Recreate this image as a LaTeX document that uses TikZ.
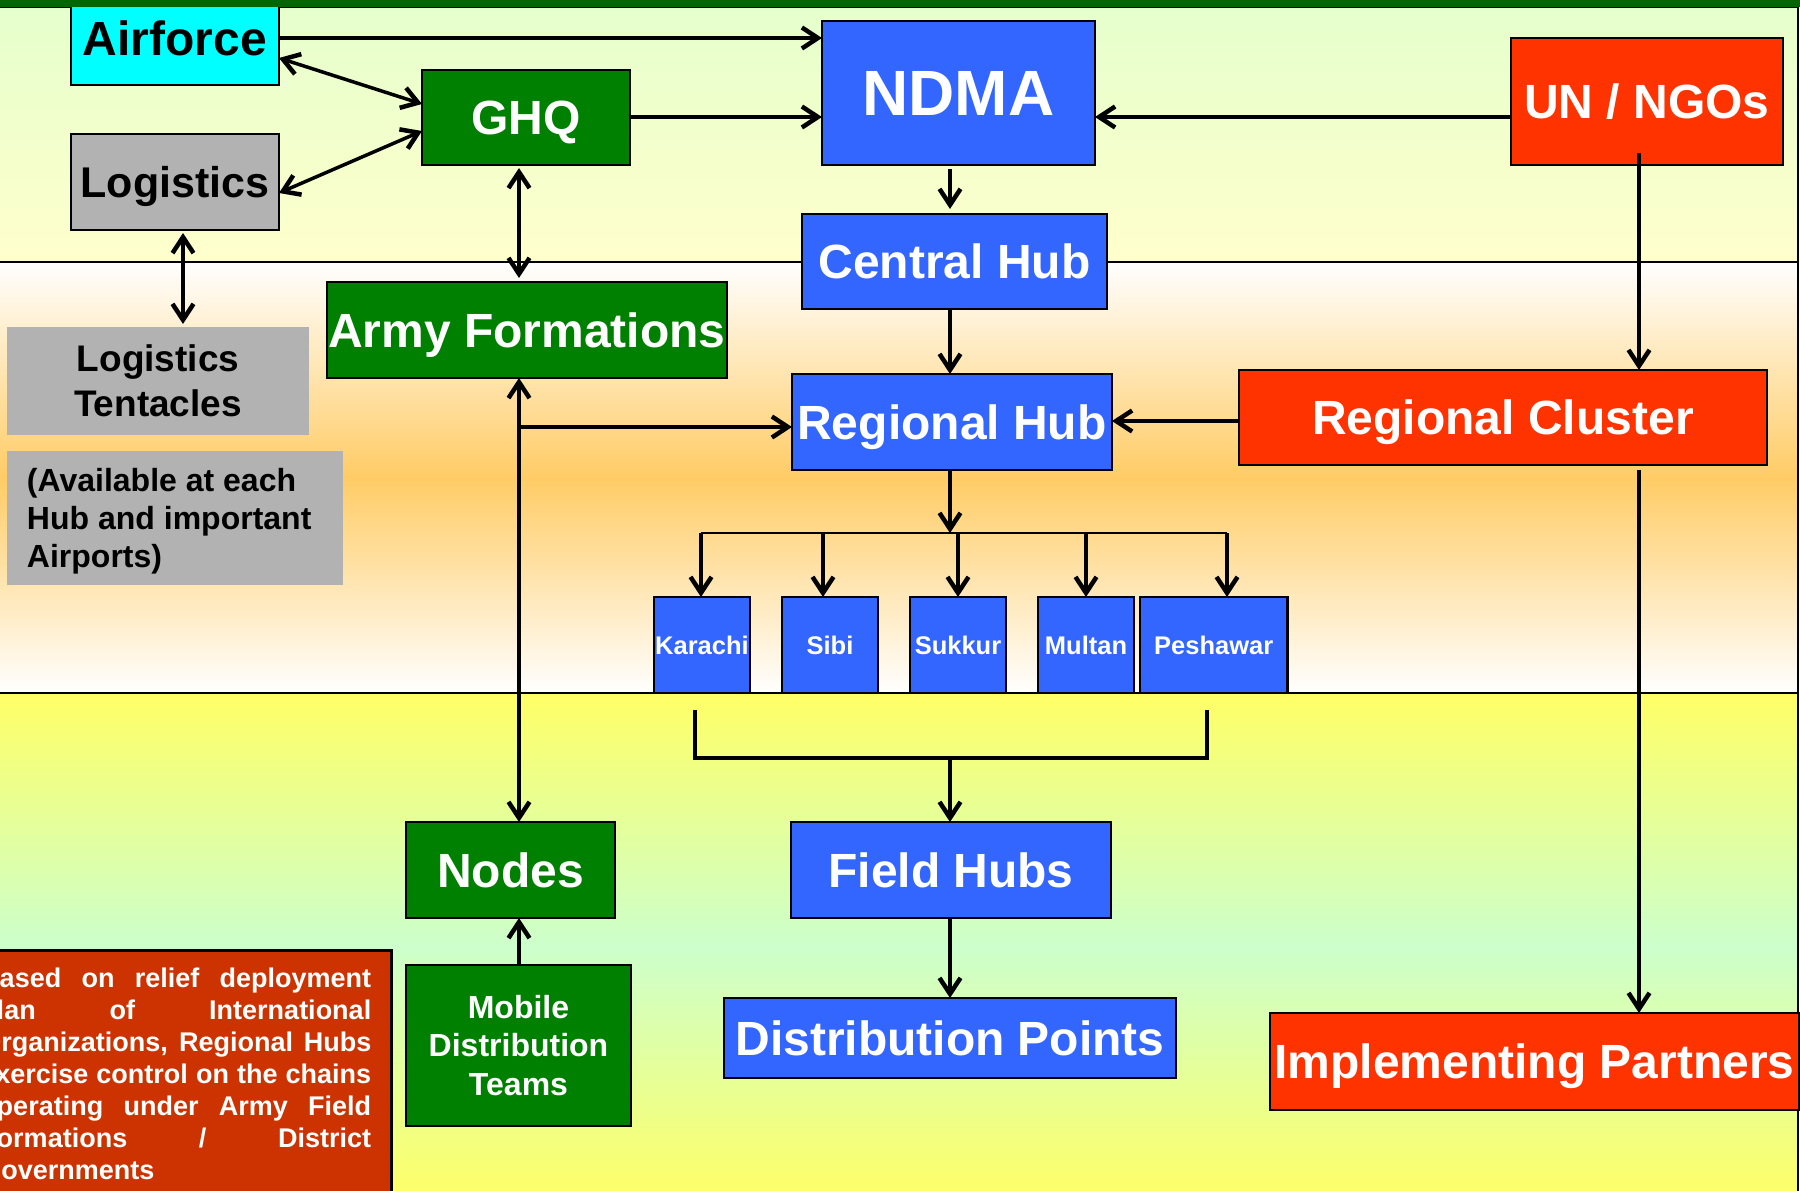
\documentclass[tikz,border=0pt]{standalone}
\usepackage{fontspec}
\setmainfont{Liberation Sans}
\usetikzlibrary{arrows.meta}
\tolerance=10000 \hbadness=10000
\definecolor{ncyan}{HTML}{00FFFF}
\definecolor{ngray}{HTML}{B2B2B2}
\definecolor{ngreen}{HTML}{008000}
\definecolor{nblue}{HTML}{3366FF}
\definecolor{nred}{HTML}{FF3300}
\definecolor{nnote}{HTML}{CC3300}
\definecolor{topbar}{HTML}{006600}
\definecolor{bonetop}{HTML}{E5FFCC}
\definecolor{bonebot}{HTML}{FFFFCC}
\definecolor{btwomid}{HTML}{FFCC66}
\definecolor{bthreeyel}{HTML}{FFFF66}
\definecolor{bthreegrn}{HTML}{CCFFCC}
\tikzset{
  bx/.style={draw=black, line width=2.5pt, inner sep=0pt, outer sep=0pt},
  fbig/.style={font=\fontsize{48}{56}\selectfont\bfseries, text height=34.4pt, text depth=0pt},
  fhuge/.style={font=\fontsize{64}{74}\selectfont\bfseries, text height=45.8pt, text depth=0pt},
  flog/.style={font=\fontsize{43}{50}\selectfont\bfseries, text height=30.8pt, text depth=0pt},
  fsmall/.style={font=\fontsize{25.5}{30}\selectfont\bfseries, text height=18.3pt, text depth=0pt},
  cyanbox/.style={bx, fill=ncyan, text=black},
  graybox/.style={bx, fill=ngray, text=black},
  plainbox/.style={fill=ngray, text=black, inner sep=0pt, outer sep=0pt},
  greenbox/.style={bx, fill=ngreen, text=white},
  bluebox/.style={bx, fill=nblue, text=white},
  redbox/.style={bx, fill=nred, text=white},
  notebox/.style={draw=black, line width=2.5pt, fill=nnote, text=white, inner xsep=20pt, inner ysep=18pt,
     text width=391pt, align=justify, font=\fontsize{27}{32}\selectfont\bfseries},
  conn/.style={line width=3.5pt},
  tipb/.tip={Straight Barb[length=16pt, width=21pt, line width=4.5pt]},
  arr/.style={conn, -tipb},
  darr/.style={conn, tipb-tipb},
  arrs/.style={line width=3.5pt, -tipb},
  bandline/.style={draw=black, line width=2pt},
}
\begin{document}
\begin{tikzpicture}[x=1pt, y=-1pt]
\useasboundingbox (0,0) rectangle (1800,1191);
\clip (0,0) rectangle (1800,1191);
\fill[white] (0,0) rectangle (1800,1191);
% bands
\shade[top color=bonetop, bottom color=bonebot] (-10,7) rectangle (1798,262);
\shade[top color=white, bottom color=white, middle color=btwomid] (-10,262) rectangle (1798,693);
\shade[top color=bthreeyel, bottom color=bthreeyel, middle color=bthreegrn] (-10,693) rectangle (1798,1200);
\draw[bandline] (-10,7) rectangle (1798,262);
\draw[bandline] (-10,262) rectangle (1798,693);
\draw[bandline] (-10,693) rectangle (1798,1200);

% nodes
\node[cyanbox, fbig, minimum width=208, minimum height=94] (Airforce) at (175,38) {Airforce};
\fill[topbar] (0,0) rectangle (1800,7);
\node[greenbox, fbig, minimum width=208, minimum height=95] (GHQ) at (526,117.5) {GHQ};
\node[bluebox, fhuge, minimum width=273, minimum height=144] (NDMA) at (958.5,93) {NDMA};
\node[redbox, fbig, minimum width=272, minimum height=127] (UN) at (1647,101.5) {UN / NGOs};
\node[graybox, flog, minimum width=208, minimum height=96] (Logistics) at (175,182) {Logistics};
\node[bluebox, fbig, minimum width=305, minimum height=95] (CH) at (954.5,261.5) {Central Hub};
\node[greenbox, fbig, minimum width=400, minimum height=96] (Army) at (527,330) {Army Formations};
\node[plainbox, align=center, font=\fontsize{37}{45}\selectfont\bfseries, minimum width=302, minimum height=108] (Tent) at (158,381) {Logistics\\Tentacles};
\node[plainbox, font=\fontsize{32}{38}\selectfont\bfseries, minimum width=336, minimum height=134] (Avail) at (175,518) {\parbox[c][134pt][c]{296pt}{\vspace*{7pt}(Available at each\\Hub and important\\Airports)}};
\node[bluebox, fbig, minimum width=320, minimum height=96] (RH) at (952,422) {Regional Hub};
\node[redbox, fbig, minimum width=528, minimum height=95] (RC) at (1503,417.5) {Regional Cluster};
\node[bluebox, fsmall, minimum width=96, minimum height=96] (Karachi) at (702,645) {Karachi};
\node[bluebox, fsmall, minimum width=96, minimum height=96] (Sibi) at (830,645) {Sibi};
\node[bluebox, fsmall, minimum width=96, minimum height=96] (Sukkur) at (958,645) {Sukkur};
\node[bluebox, fsmall, minimum width=96, minimum height=96] (Multan) at (1086,645) {Multan};
\node[bluebox, fsmall, minimum width=147.5, minimum height=96] (Peshawar) at (1213.75,645) {Peshawar};
\node[greenbox, fbig, minimum width=209, minimum height=96] (Nodes) at (510.5,870) {Nodes};
\node[bluebox, fbig, minimum width=320, minimum height=96] (FH) at (951,870) {Field Hubs};
\node[bluebox, fbig, minimum width=452, minimum height=80] (DP) at (950,1038) {Distribution Points};
\node[redbox, fbig, minimum width=529, minimum height=97] (IP) at (1534.5,1061.5) {Implementing Partners};
\node[greenbox, align=center, font=\fontsize{32}{38.5}\selectfont\bfseries, minimum width=225, minimum height=161] (MDT) at (518.5,1045.5) {Mobile\\Distribution\\Teams};
\node[notebox, anchor=north west] (Note) at (-41,949) {\noindent Based on relief deployment\linebreak plan of International\linebreak Organizations, Regional Hubs\linebreak exercise control on the chains\linebreak operating under Army Field\linebreak Formations / District\linebreak Governments};

% helper coordinates
\coordinate (sx) at (950,0);
\coordinate (ax) at (519,0);
\coordinate (lx) at (183,0);
\coordinate (ux) at (1639,0);
\coordinate (busL) at (701,533);
\coordinate (busR) at (1227,533);
\coordinate (brL) at (695,758);
\coordinate (brR) at (1207,758);

% connectors
\draw[arr] (Airforce.east |- 0,38) -- (NDMA.west |- 0,38);
\draw[darr] (Airforce.east |- 0,58) -- (GHQ.west |- 0,104);
\draw[darr] (Logistics.east |- 0,193) -- (GHQ.west |- 0,131);
\draw[arr] (GHQ.east |- 0,117) -- (NDMA.west |- 0,117);
\draw[arr] (UN.west |- 0,117) -- (NDMA.east |- 0,117);
\draw[arr, shorten <=4pt, shorten >=5pt] (NDMA.south -| sx) -- (CH.north -| sx);
\draw[darr, shorten <=3pt, shorten >=4pt] (GHQ.south -| ax) -- (Army.north -| ax);
\draw[darr, shorten <=3pt, shorten >=3pt] (Logistics.south -| lx) -- (Tent.north -| lx);
\draw[darr] (Army.south -| ax) -- (Nodes.north -| ax);
\draw[arr] (ax |- 0,427) -- (RH.west |- 0,427);
\draw[arr] (CH.south -| sx) -- (RH.north -| sx);
\draw[arr, shorten <=-12pt] (UN.south -| ux) -- (RC.north -| ux);
\draw[arr] (RC.west |- 0,421) -- (RH.east |- 0,421);
\draw[arr] (RH.south -| sx) -- (sx |- busL);
\draw[line width=2pt] (busL) -- (busR);
\draw[arrs] (busL) -- (Karachi.north -| busL);
\draw[arrs] (busL -| 823,0) -- (Sibi.north -| 823,0);
\draw[arrs] (busL -| Sukkur.north) -- (Sukkur.north);
\draw[arrs] (busL -| Multan.north) -- (Multan.north);
\draw[arrs] (busR) -- (Peshawar.north -| busR);
\draw[conn] (brL |- 0,710) -- (brL) -- (brR) -- (brR |- 0,710);
\draw[arr] (sx |- brL) -- (FH.north -| sx);
\draw[arr] (FH.south -| sx) -- (DP.north -| sx);
\draw[arr] (MDT.north -| ax) -- (Nodes.south -| ax);
\draw[arr, shorten <=5pt] (RC.south -| ux) -- (IP.north -| ux);
\end{tikzpicture}
\end{document}
